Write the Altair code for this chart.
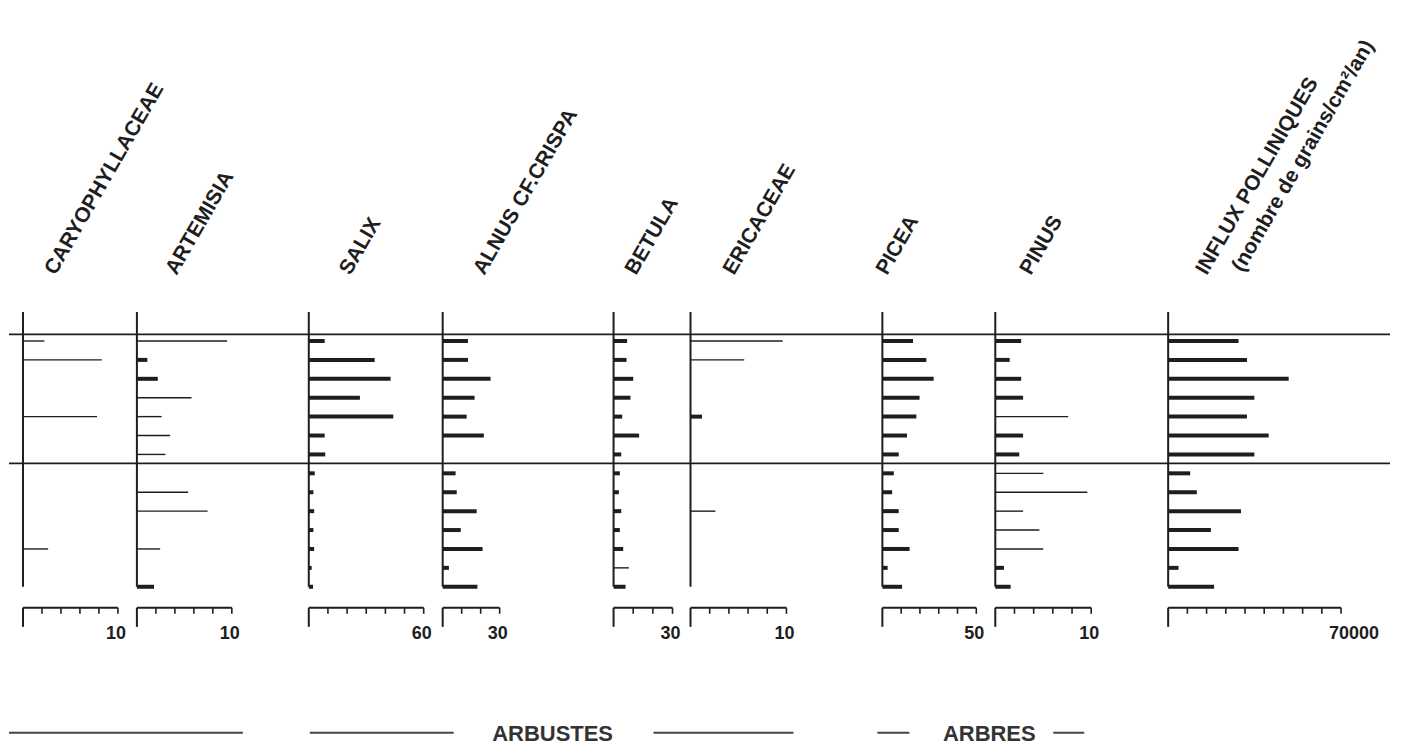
import altair as alt
import pandas as pd

# ---------------- data ----------------
rows = list(range(1, 15))  # sample levels, top to bottom

taxa = ["CARYOPHYLLACEAE", "ARTEMISIA", "SALIX", "ALNUS CF.CRISPA", "BETULA",
        "ERICACEAE", "PICEA", "PINUS", "INFLUX POLLINIQUES"]
influx_sub = "(nombre de grains/cm²/an)"

caryo = [2.25, 8.3, 0, 0, 7.8, 0, 0, 0, 0, 0, 0, 2.65, 0, 0]
caryo_kind = ["e"] * 14
artemisia = [9.5, 1.1, 2.2, 5.75, 2.6, 3.5, 3.0, 0, 5.4, 7.45, 0, 2.45, 0, 1.8]
artemisia_kind = ["e", "n", "n", "e", "e", "e", "e", "e", "e", "e", "e", "e", "e", "n"]
salix = [8.3, 34.4, 42.7, 26.7, 44.1, 8.3, 8.6, 3.1, 2.4, 2.8, 2.4, 2.8, 1.5, 2.2]
salix_kind = ["n"] * 14
alnus = [13.3, 13.3, 25.2, 16.8, 12.6, 21.7, 0, 6.8, 7.4, 17.9, 9.5, 21.0, 3.3, 18.3]
alnus_kind = ["n"] * 14
betula = [6.9, 6.6, 10.0, 8.6, 4.4, 13.0, 3.9, 3.2, 2.7, 3.9, 3.2, 4.9, 7.8, 6.1]
betula_kind = ["n"] * 12 + ["e", "n"]
ericaceae = [9.6, 5.6, 0, 0, 1.2, 0, 0, 0, 0, 2.6, 0, 0, 0, 0]
ericaceae_kind = ["e", "e", "e", "e", "n", "e", "e", "e", "e", "e", "e", "e", "e", "e"]
picea = [16.3, 23.4, 27.3, 19.8, 18.1, 13.1, 8.7, 6.1, 5.2, 8.7, 8.7, 14.5, 2.8, 10.5]
picea_kind = ["n"] * 14
pinus = [2.7, 1.5, 2.7, 2.9, 7.6, 2.9, 2.5, 5.0, 9.6, 2.9, 4.6, 5.0, 0.9, 1.6]
pinus_kind = ["n", "n", "n", "n", "e", "n", "n", "e", "e", "e", "e", "e", "n", "n"]
influx = [28500, 31900, 48800, 34900, 31900, 40700, 34900, 8900, 11600, 29500, 17300, 28500, 4200, 18600]
influx_kind = ["n"] * 14

series = [caryo, artemisia, salix, alnus, betula, ericaceae, picea, pinus, influx]
kinds = [caryo_kind, artemisia_kind, salix_kind, alnus_kind, betula_kind,
         ericaceae_kind, picea_kind, pinus_kind, influx_kind]

scale_max = [10, 10, 60, 30, 30, 10, 50, 10, 70000]
scale_label = ["10", "10", "60", "30", "30", "10", "50", "10", "70000"]
scale_steps = [5, 5, 6, 3, 3, 5, 5, 5, 9]

zone_breaks = [0.65, 7.47]          # horizontal zone lines (in level units)
axis_span = [-0.53, 14.0]           # extent of each vertical axis

group_text = ["ARBUSTES", "ARBRES"]

# ---------------- layout / style ----------------
INK = "#1e1e1e"
FONT = "Liberation Sans"
scale_len = [95, 95, 115, 57, 59, 96, 94, 96, 173]      # px length of each scale bar
panel_w = [128, 172, 134, 171, 77, 192, 113, 173, 222]   # px width of each panel
lead = [14, 0, 0, 0, 0, 0, 0, 0, 0]                      # px before the axis
title_dx = [36, 43, 45, 45, 26, 47, 8, 39, 42]
TITLE_Y = 270
PANEL_H = 700
Y_DOMAIN = [-16.6, 20.4]
BAR_Y, DROP_Y, TICK_Y, LABEL_Y = 15.11, 16.12, 15.43, 16.75


def panel(i):
    ppu = scale_len[i] / scale_max[i]
    dom = [-lead[i] / ppu, (panel_w[i] - lead[i]) / ppu]
    xs = alt.Scale(domain=dom, nice=False, zero=False)
    ys = alt.Scale(domain=Y_DOMAIN, nice=False, zero=False, reverse=True)

    df = pd.DataFrame({"row": rows, "value": series[i], "kind": kinds[i]})
    df = df[df["value"] > 0].copy()
    df["zero"] = 0.0

    bars = alt.Chart(df).mark_rule(color=INK).encode(
        x=alt.X("zero:Q", scale=xs, axis=None),
        x2="value:Q",
        y=alt.Y("row:Q", scale=ys, axis=None),
        strokeWidth=alt.StrokeWidth("kind:N", scale=alt.Scale(domain=["n", "e"], range=[4, 1.4]),
                                    legend=None),
    )

    ax = alt.Chart(pd.DataFrame({"x": [0.0], "y": [axis_span[0]], "y2": [axis_span[1]]})).mark_rule(
        color=INK, strokeWidth=2).encode(
        x=alt.X("x:Q", scale=xs, axis=None),
        y=alt.Y("y:Q", scale=ys, axis=None), y2="y2:Q")

    zones = alt.Chart(pd.DataFrame({"x": [dom[0]] * 2, "x2": [dom[1]] * 2, "y": zone_breaks})).mark_rule(
        color=INK, strokeWidth=1.8).encode(
        x=alt.X("x:Q", scale=xs, axis=None), x2="x2:Q",
        y=alt.Y("y:Q", scale=ys, axis=None))

    bar = alt.Chart(pd.DataFrame({"x": [0.0], "x2": [float(scale_max[i])], "y": [BAR_Y]})).mark_rule(
        color=INK, strokeWidth=2).encode(
        x=alt.X("x:Q", scale=xs, axis=None), x2="x2:Q",
        y=alt.Y("y:Q", scale=ys, axis=None))

    drop = alt.Chart(pd.DataFrame({"x": [0.0], "y": [BAR_Y], "y2": [DROP_Y]})).mark_rule(
        color=INK, strokeWidth=2).encode(
        x=alt.X("x:Q", scale=xs, axis=None),
        y=alt.Y("y:Q", scale=ys, axis=None), y2="y2:Q")

    n = scale_steps[i]
    tick_x = [scale_max[i] * k / n for k in range(1, n + 1)]
    ticks = alt.Chart(pd.DataFrame({"x": tick_x, "y": [BAR_Y] * n, "y2": [TICK_Y] * n})).mark_rule(
        color=INK, strokeWidth=1.6).encode(
        x=alt.X("x:Q", scale=xs, axis=None),
        y=alt.Y("y:Q", scale=ys, axis=None), y2="y2:Q")

    lab = alt.Chart(pd.DataFrame({"x": [float(scale_max[i])], "y": [LABEL_Y], "t": [scale_label[i]]})).mark_text(
        align="left", baseline="alphabetic", dx=-12, font=FONT, fontSize=18, fontWeight="bold",
        color=INK).encode(
        x=alt.X("x:Q", scale=xs, axis=None),
        y=alt.Y("y:Q", scale=ys, axis=None), text="t:N")

    title = alt.Chart(pd.DataFrame({"t": [taxa[i]]})).mark_text(
        angle=300, align="left", baseline="bottom", font=FONT, fontSize=21, fontWeight="bold",
        color=INK).encode(
        x=alt.value(lead[i] + title_dx[i]), y=alt.value(TITLE_Y), text="t:N")

    layers = [zones, ax, bars, bar, drop, ticks, lab, title]
    if i == len(taxa) - 1:
        sub = alt.Chart(pd.DataFrame({"t": [influx_sub]})).mark_text(
            angle=300, align="left", baseline="bottom", font=FONT, fontSize=21, fontWeight="bold",
            color=INK).encode(
            x=alt.value(lead[i] + 78), y=alt.value(TITLE_Y - 3), text="t:N")
        layers.append(sub)
    return alt.layer(*layers).properties(width=panel_w[i], height=PANEL_H)


top = alt.hconcat(*[panel(i) for i in range(len(taxa))], spacing=0, bounds="flush")

# bottom group annotation (decorative bracket lines)
seg_start = [0, 301, 645, 869, 1045]
seg_end = [234, 445, 785, 901, 1076]
group_x = [544, 981]

dummy = pd.DataFrame({"d": [0]})
blayers = []
for a, b in zip(seg_start, seg_end):
    blayers.append(alt.Chart(dummy).mark_rule(color="#444", strokeWidth=2).encode(
        x=alt.value(a), x2=alt.value(b), y=alt.value(25)))
for t, cx in zip(group_text, group_x):
    blayers.append(alt.Chart(dummy).mark_text(
        align="center", baseline="middle", font=FONT, fontSize=22, fontWeight="bold",
        color="#333").encode(
        x=alt.value(cx), y=alt.value(26), text=alt.value(t)))
bottom = alt.layer(*blayers).properties(width=1390, height=32)

chart = alt.vconcat(top, bottom, spacing=0, bounds="full").properties(
    padding=0).configure_view(stroke=None)

chart.save("out.html", embed_options={"renderer": "svg", "actions": False})
